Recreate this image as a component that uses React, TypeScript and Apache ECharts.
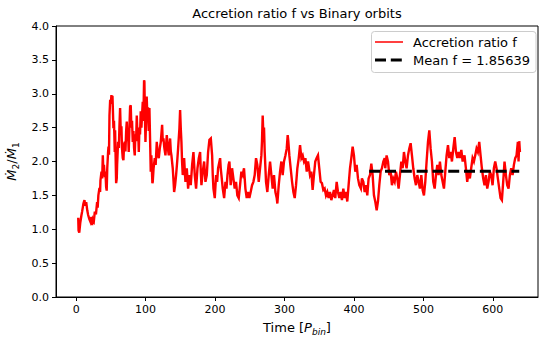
import React, { useEffect, useRef } from "react";
import * as echarts from "echarts";

// Accretion ratio f = Mdot2/Mdot1 vs time [P_bin]
const segA: [number, number][] = [
  [3, 1.17], [3.5, 0.98], [4.5, 0.95], [6, 1.1], [7.5, 1.2], [8.6, 1.26], [10.5, 1.38], [12, 1.43], [13, 1.35], [14.5, 1.4],
  [16, 1.28], [17.3, 1.21], [19, 1.15], [20.6, 1.11], [22, 1.18], [23, 1.06], [24, 1.15], [25.5, 1.12], [26.9, 1.26], [28.5, 1.22],
  [30.2, 1.4], [31, 1.32], [32, 1.5], [33.6, 1.61], [34.5, 1.55], [35, 1.72], [36.5, 1.85], [37.5, 1.75], [38.4, 2.09], [39.2, 1.85],
  [40, 1.95], [41.3, 1.77], [42.2, 1.85], [43.2, 1.62], [44, 1.57], [44.8, 1.9], [46, 2.14], [46.6, 2.22], [47.3, 2.1], [48, 2.68],
  [49, 2.91], [49.9, 2.85], [50.8, 2.98], [51.8, 2.9], [52.3, 2.97], [53.7, 2.49], [54.5, 2.6], [55.6, 2.14], [56.1, 2.46], [57.6, 1.68],
  [58.5, 1.75], [59, 1.95], [60.4, 2.29], [61.5, 2.2], [62.3, 2.5], [63.3, 2.79], [64.2, 2.45], [65.2, 2.52], [66, 2.2], [67.1, 2.05],
  [68.1, 2.02], [69, 2.25], [70, 2.29], [71, 2.15], [72, 2.45], [72.9, 2.59], [73.8, 2.3], [74.8, 2.4], [75.7, 2.14], [76.7, 2.5],
  [77.7, 2.81], [78.6, 2.83], [79.5, 2.5], [80.5, 2.6], [81.5, 2.29], [82.5, 2.45], [83.4, 2.2], [84.4, 2.09], [85.3, 2.4], [86.3, 2.3],
  [87.3, 2.68], [88.3, 2.4], [89.2, 2.5], [90.2, 2.14], [91.1, 2.5], [92, 2.4], [93, 2.74], [94, 2.5], [95, 2.7], [95.9, 2.88],
  [96.8, 2.6], [97.8, 3.2], [98.3, 3.18], [99, 2.7], [99.8, 2.29], [100.7, 2.6], [101.6, 2.96], [102.6, 2.64], [103.5, 2.8], [104.5, 2.45],
  [105.5, 2.79], [106.5, 2.31], [107.4, 1.85],
];
const segB: [number, number][] = [
  [108.3, 2.09], [109.8, 1.68], [110.3, 1.7], [111.5, 1.9], [113.2, 2.05], [114.5, 1.95], [116.1, 2.29], [117.5, 2.1], [119, 2.05], [120.5, 2.2],
  [121.9, 2.29], [123.8, 2.54], [124.7, 2.3], [125.7, 2.34], [127, 2.2], [128.6, 2.09], [130.5, 2.39], [132, 2.2], [133.4, 2.09], [135.3, 2.34],
  [136.3, 2.15], [137.2, 2.09], [139.1, 1.9], [140, 1.75], [141.1, 1.55], [142.5, 1.65], [143.9, 1.8], [145.5, 2.0], [146.8, 2.19], [148.7, 2.49],
  [149.7, 2.76], [150.6, 2.5], [151.6, 2.29], [152.5, 2.0], [153.5, 1.8], [155.5, 2.05], [156.5, 1.85], [157.4, 1.7], [159.3, 1.9], [160.3, 1.75],
  [161.2, 1.6], [163.1, 1.8], [165, 1.65], [167, 1.95], [168.9, 2.14], [170.8, 1.8], [172.7, 1.6], [174.7, 1.9], [176.6, 2.05], [178.5, 2.14],
  [179.5, 1.85], [180.4, 1.65], [182.3, 1.85], [184.3, 2.0], [186.2, 1.7], [188.1, 1.8], [190, 2.14], [191.9, 2.32], [193.9, 2.34], [195.8, 2.09],
  [196.7, 1.8], [197.7, 1.6], [199.6, 1.46], [201.5, 1.8], [203, 1.7], [204.4, 1.9], [207.3, 2.05], [208.2, 1.9], [209.2, 1.8], [211.1, 1.6],
  [213.1, 1.46], [215, 1.7], [216.5, 1.6], [217.9, 1.8], [219.5, 1.95], [220.7, 2.0],
];
const segC: [number, number][] = [
  [221.5, 1.85], [222.5, 1.65], [224.5, 1.9], [226.4, 1.75], [228.3, 1.6], [230.2, 1.7], [232.1, 1.5], [234.1, 1.46], [236, 1.65], [237.9, 1.85],
  [239.8, 1.8], [241.7, 1.9], [243.7, 1.6], [245.6, 1.46], [247.5, 1.55], [249.4, 1.46], [251.3, 1.55], [253.3, 1.65], [255.2, 1.7], [257.1, 1.8],
  [259, 2.05], [260.9, 1.95], [262.9, 1.7], [264.8, 1.9], [266.7, 2.09], [267.6, 2.3], [268.6, 2.68], [269.6, 2.39], [270.5, 2.5], [271.5, 2.14],
  [273.4, 1.7], [275.3, 1.55], [277.3, 1.8], [279.2, 2.0], [281.1, 1.8], [283, 1.6], [284.9, 1.8], [286.9, 1.55], [288.8, 1.46], [289.7, 1.38],
  [291.7, 1.65], [293.6, 1.85], [295.5, 2.0], [297.4, 1.8], [299.3, 2.0], [301.3, 2.09], [303.2, 2.19], [304.6, 2.39], [305.5, 2.3], [307, 2.09],
  [308.9, 1.9], [310.9, 1.7], [312.8, 1.55], [314.7, 1.46], [316.6, 1.65], [318.5, 1.9], [320.5, 2.05], [322.4, 2.24], [324.3, 2.05], [326.2, 2.09],
  [328.1, 2.0], [330.1, 2.05], [332, 1.85], [333.9, 2.0],
];
const segD: [number, number][] = [
  [334.7, 1.95], [336.7, 1.8], [338.6, 1.85], [340.5, 1.58], [342.4, 1.8], [344.3, 2.0], [346.3, 2.05], [348.2, 2.09], [350.1, 1.9], [352, 1.7],
  [353.9, 1.68], [355.9, 1.58], [357.8, 1.6], [359.7, 1.5], [361.6, 1.55], [363.5, 1.46], [365.5, 1.55], [367.4, 1.43], [369.3, 1.5], [371.2, 1.58],
  [373.1, 1.46], [375.1, 1.7], [377, 1.55], [378.9, 1.46], [380.8, 1.55], [382.7, 1.43], [384.7, 1.6], [386.6, 1.46], [388.5, 1.55], [390.4, 1.41],
  [392.3, 1.65], [394.3, 1.9], [396.2, 2.05], [398.1, 2.22], [400, 2.09], [401.9, 1.85], [403.9, 1.95], [405.8, 1.75], [407.7, 1.65], [410, 1.6],
  [411.5, 1.75], [413.5, 1.7], [415.4, 1.55], [417.3, 1.65], [419.2, 1.5], [421.1, 1.75], [423.1, 1.8], [425, 1.97], [426.9, 1.8], [428.8, 1.5],
  [430.7, 1.41], [432.7, 1.28], [434.6, 1.41], [436.5, 1.65], [438.4, 1.85], [440.3, 1.9], [442.3, 2.0], [444.2, 2.05],
];
const segE: [number, number][] = [
  [445.1, 1.9], [447, 2.09], [449, 2.0], [450.9, 1.8], [452.8, 1.85], [454.7, 1.65], [456.6, 1.75], [458.6, 1.7], [460.5, 1.85], [462.4, 1.75],
  [464.3, 1.6], [466.2, 1.8], [468.2, 2.0], [470.1, 1.9], [472, 2.14], [473.9, 2.0], [475.8, 1.9], [477.8, 2.09], [479.7, 2.19], [481.6, 2.27],
  [483.5, 2.09], [485.4, 1.9], [487.4, 1.75], [489.3, 1.65], [491.2, 1.8], [493.1, 1.7], [495, 1.6], [497, 1.8], [498.9, 1.58], [500.8, 1.5],
  [502.7, 1.7], [504.6, 2.0], [506.6, 2.29], [508.5, 2.46], [510.4, 2.19], [512.3, 2.0], [514.2, 1.7], [516.2, 1.6], [518.1, 1.8], [520, 1.95],
  [521.9, 1.8], [523.8, 2.0], [525.8, 1.8], [527.7, 1.7], [529.6, 1.6], [531.5, 1.85], [533.4, 2.09], [535.4, 2.24], [537.3, 2.05], [539.2, 2.14],
  [541.1, 2.0], [543, 2.19], [545, 2.36], [546.9, 2.14], [548.8, 2.05], [550.7, 2.14], [552.6, 2.05], [554.6, 2.17], [556.5, 2.0],
];
const segF: [number, number][] = [
  [557.3, 2.0], [559.2, 2.09], [561.2, 1.9], [563.1, 1.7], [565, 1.85], [566.9, 1.75], [568.8, 1.9], [570.8, 2.05], [572.7, 2.0], [574.6, 2.09],
  [576.5, 2.19], [578.4, 2.14], [580.4, 2.29], [582.3, 2.09], [584.2, 1.9], [586.1, 1.75], [588, 1.65], [590, 1.8], [591.9, 1.6], [593.8, 1.7],
  [595.7, 1.85], [597.6, 1.8], [599.6, 1.65], [601.5, 1.9], [603.4, 2.0], [605.3, 1.9], [607.2, 1.75], [609.2, 1.6], [611.1, 1.46], [613, 1.43],
  [614.9, 1.7], [616.8, 2.0], [618.8, 1.8], [620.7, 1.65], [622.6, 1.6], [624.5, 1.8], [626.4, 1.9], [628.4, 1.8], [630.3, 1.95], [632.2, 2.05],
  [634.1, 2.09], [636, 2.29], [637, 2.0], [638, 2.3], [639, 2.14],
];
const accretionRatio: [number, number][] = [...segA, ...segB, ...segC, ...segD, ...segE, ...segF];

const meanValue = 1.85639;
const meanRange = [422, 638];
const xTickValues = [0, 100, 200, 300, 400, 500, 600];
const xRange = [-29, 665];
const yRange = [0, 4];
const yStep = 0.5;

const titleText = "Accretion ratio f vs Binary orbits";
const seriesName = "Accretion ratio f";
const meanName = "Mean f = 1.85639";

const FONT = "DejaVu Sans";

export default function App() {
  const ref = useRef<HTMLDivElement>(null);
  useEffect(() => {
    document.body.style.margin = "0";
    const chart = echarts.init(ref.current!, null, { renderer: "svg" });
    chart.setOption({
      animation: false,
      backgroundColor: "#ffffff",
      textStyle: { fontFamily: FONT },
      title: {
        text: titleText,
        left: 297,
        top: 7,
        textAlign: "center",
        padding: 0,
        textStyle: { fontSize: 13, fontWeight: "normal", color: "#000", fontFamily: FONT },
      },
      grid: {
        left: 56,
        right: 1,
        top: 26,
        bottom: 41,
        containLabel: false,
        outerBoundsMode: "none",
        show: true,
        borderColor: "#000",
        borderWidth: 1,
        backgroundColor: "transparent",
      },
      xAxis: {
        type: "value",
        min: xRange[0],
        max: xRange[1],
        axisLine: { show: true, onZero: false, lineStyle: { color: "#000", width: 1 } },
        splitLine: { show: false },
        axisTick: {
          show: true,
          length: 4,
          lineStyle: { color: "#000", width: 1 },
          customValues: xTickValues,
        },
        axisLabel: {
          color: "#000",
          fontSize: 11,
          fontFamily: FONT,
          margin: 7,
          customValues: xTickValues,
        },
        name: "{n|Time [}{i|P}{s|bin}{n|]}",
        nameLocation: "middle",
        nameGap: 21,
        nameTextStyle: {
          rich: {
            n: { fontSize: 13, fontFamily: FONT, color: "#000", lineHeight: 18, verticalAlign: "middle" },
            i: { fontSize: 13, fontFamily: FONT, fontStyle: "italic", color: "#000", lineHeight: 18, verticalAlign: "middle" },
            s: { fontSize: 9, fontFamily: FONT, fontStyle: "italic", color: "#000", lineHeight: 10, verticalAlign: "bottom" },
          },
        },
      },
      yAxis: {
        type: "value",
        min: yRange[0],
        max: yRange[1],
        interval: yStep,
        axisLine: { show: true, onZero: false, lineStyle: { color: "#000", width: 1 } },
        splitLine: { show: false },
        axisTick: { show: true, length: 4, lineStyle: { color: "#000", width: 1 } },
        axisLabel: {
          color: "#000",
          fontSize: 11,
          fontFamily: FONT,
          margin: 7,
          formatter: (v: number) => v.toFixed(1),
        },
        name: "{i|Ṁ}{s|2}{n|/}{i|Ṁ}{s|1}",
        nameLocation: "middle",
        nameRotate: 90,
        nameGap: 27,
        nameTextStyle: {
          rich: {
            n: { fontSize: 13, fontFamily: FONT, color: "#000", lineHeight: 18, verticalAlign: "middle" },
            i: { fontSize: 13, fontFamily: FONT, fontStyle: "italic", color: "#000", lineHeight: 18, verticalAlign: "middle" },
            s: { fontSize: 9, fontFamily: FONT, color: "#000", lineHeight: 10, verticalAlign: "bottom" },
          },
        },
      },
      series: [
        {
          name: seriesName,
          type: "line",
          data: accretionRatio,
          showSymbol: false,
          symbol: "none",
          lineStyle: { color: "#ff0000", width: 2.4, join: "miter" },
          z: 2,
        },
        {
          name: meanName,
          type: "line",
          data: [
            [meanRange[0], meanValue],
            [meanRange[1], meanValue],
          ],
          showSymbol: false,
          symbol: "none",
          lineStyle: { color: "#000", width: 3, type: [11, 4.8] },
          z: 3,
        },
      ],
      graphic: [
        {
          type: "rect",
          z: 10,
          shape: { x: 371.5, y: 31.5, width: 164.5, height: 41, r: 3 },
          style: { fill: "rgba(255,255,255,0.8)", stroke: "#cccccc", lineWidth: 1 },
        },
        {
          type: "line",
          z: 11,
          shape: { x1: 375, y1: 42, x2: 403, y2: 42 },
          style: { stroke: "#ff0000", lineWidth: 1.5 },
        },
        {
          type: "text",
          z: 11,
          x: 413,
          y: 42,
          style: { text: seriesName, fontSize: 13, fontFamily: FONT, fill: "#000", verticalAlign: "middle", align: "left" },
        },
        {
          type: "line",
          z: 11,
          shape: { x1: 375, y1: 60, x2: 403, y2: 60 },
          style: { stroke: "#000", lineWidth: 3, lineDash: [11, 4.8] },
        },
        {
          type: "text",
          z: 11,
          x: 413,
          y: 60,
          style: { text: meanName, fontSize: 13, fontFamily: FONT, fill: "#000", verticalAlign: "middle", align: "left" },
        },
      ],
    });
    return () => chart.dispose();
  }, []);
  return <div ref={ref} style={{ position: "absolute", left: 0, top: 0, width: 539, height: 338 }} />;
}
